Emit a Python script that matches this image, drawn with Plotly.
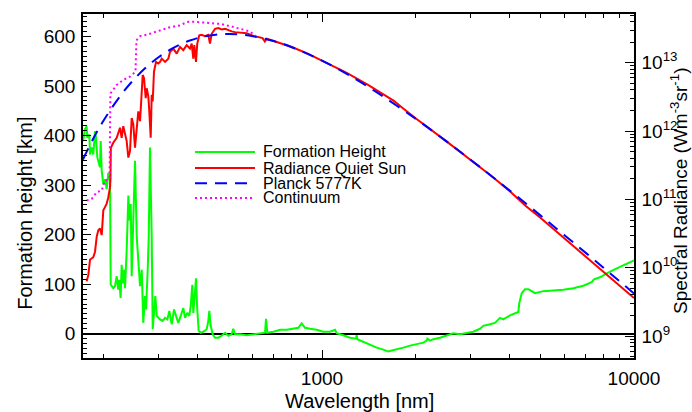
import plotly.graph_objects as go

# ---------------- data ----------------
wl_green = [171.5, 173.9, 176.1, 176.9, 179.6, 180.5, 182.8, 184.9, 187.3, 188.6, 190.5, 194.3, 195.3,
            196.8, 199.1, 201.6, 204.1, 206.6, 209.2, 210.3, 214.3, 217.0, 219.8, 222.4, 224.0, 226.3,
            228.0, 229.7, 232.0, 233.7, 236.6, 239.5, 241.3, 243.8, 245.5, 247.5, 249.8, 251.6, 254.8,
            257.8, 261.1, 264.4, 267.4, 270.8, 272.9, 276.3, 278.4, 281.0, 284.6, 286.7, 289.4, 292.3,
            295.3, 298.8, 302.6, 308.6, 314.0, 319.4, 324.1, 329.9, 335.5, 340.5, 346.3, 352.5, 359.3,
            363.9, 370.1, 375.6, 379.5, 384.0, 386.8, 391.6, 394.6, 398.3, 402.5, 408.5, 416.4, 427.0,
            432.1, 435.3, 439.9, 446.4, 454.1, 465.3, 477.1, 488.9, 501.0, 513.4, 519.6, 526.1, 546.0,
            573.7, 602.3, 632.9, 656.8, 661.6, 668.0, 698.3, 733.7, 770.9, 809.1, 839.5, 860.8, 882.1,
            915.2, 961.6, 1009.7, 1060.7, 1100.9, 1114.6, 1170.4, 1229.4, 1285.3, 1291.9, 1297.6, 1356.6,
            1425.1, 1497.4, 1572.3, 1631.4, 1672.9, 1735.6, 1822.4, 1914.9, 2011.8, 2112.4, 2166.1,
            2175.6, 2219.5, 2273.9, 2388.8, 2510.2, 2635.2, 2768.9, 2909.4, 3054.3, 3209.3, 3288.5,
            3455.4, 3585.1, 3720, 3812, 4006, 4156, 4259, 4290, 4367, 4474, 4584, 4700, 4817, 5121,
            5511, 5934, 6389, 6880, 7318, 7444, 7780, 8176, 8804, 9476, 10000]
h_green = [389, 413, 419, 396, 402, 362, 376, 362, 409, 396, 356, 336, 389,
           329, 302, 312, 292, 325, 309, 99, 92, 96, 116, 89, 109, 72,
           139, 102, 129, 92, 169, 279, 229, 262, 116, 196, 289, 349, 196,
           149, 96, 129, 22, 76, 49, 129, 196, 376, 196, 9, 49, 76,
           36, 32, 29, 26, 32, 29, 46, 19, 49, 36, 22, 36, 52,
           32, 42, 36, 56, 99, 42, 82, 112, 49, 6, 2, 4, 9,
           26, 46, 16, -1, -8, -8, -4, 2, -4, -1, 10, -1, -1,
           -3, -1, 1, 2, 30, 2, 4, 8, 8, 10, 12, 21, 12,
           10, 8, 4, 4, 8, 1, -3, -8, -10, -3, -11, -16,
           -23, -28, -32, -36, -34, -32, -28, -24, -21, -18, -14,
           -10, -14, -11, -8, -4, 1, -1, 1, 4, 10, 16,
           19, 22, 32, 29, 37, 41, 44, 62, 82, 90, 90, 86, 82, 86,
           87, 89, 92, 97, 104, 110, 114, 122, 132, 141, 148]

wl_red = [176.1, 178.3, 180.5, 184.9, 187.3, 189.6, 191.9, 194.3, 196.8, 199.1, 201.6, 204.1, 206.6,
          209.2, 209.9, 210.5, 214.3, 219.8, 225.2, 228.0, 230.7, 233.7, 236.6, 239.5, 242.5, 245.5,
          248.5, 251.6, 254.8, 257.8, 261.1, 264.4, 266.3, 268.9, 272.3, 274.3, 277.6, 279.6, 282.5,
          284.6, 286.7, 289.4, 293.8, 298.8, 302.6, 306.4, 314.0, 321.7, 325.7, 333.8, 342.3, 350.7,
          359.3, 368.4, 377.5, 382.3, 386.8, 389.7, 394.6, 398.3, 404.3, 411.5, 421.7, 432.1, 437.5,
          443.1, 454.1, 465.3, 477.1, 488.9, 501.0, 513.4, 526.1, 546.0, 573.7, 600, 645, 656, 665,
          700, 800, 900, 1000, 1200, 1400, 1600, 1700, 1800, 2000, 2500, 3000, 3500, 4000, 4300,
          4500, 5000, 6000, 8000, 10000]
rad_red = [6.33e9, 7.92e9, 1.31e10, 1.43e10, 1.72e10, 2.84e10, 3.55e10, 3.76e10, 3.01e10, 6.93e10,
           7.73e10, 8.66e10, 1.08e11, 1.51e11, 2.0e11, 5.7e11, 6.77e11, 8.0e11, 1.12e12, 8.0e11,
           1.18e12, 8.96e11, 7.16e11, 4.10e11, 5.13e11, 1.56e12, 1.25e12, 5.73e11, 1.0e12, 1.95e12,
           1.40e12, 4.24e12, 6.63e12, 5.92e12, 3.04e12, 4.24e12, 3.21e12, 1.95e12, 8.0e11, 3.40e12,
           2.72e12, 7.41e12, 1.03e13, 9.77e12, 1.03e13, 1.15e13, 1.03e13, 1.15e13, 1.44e13, 1.61e13,
           1.36e13, 1.71e13, 1.53e13, 1.81e13, 1.61e13, 1.91e13, 1.15e13, 1.81e13, 1.03e13, 1.91e13,
           2.52e13, 2.57e13, 2.46e13, 2.57e13, 1.91e13, 2.66e13, 3.14e13, 3.22e13, 3.08e13, 3.14e13,
           2.98e13, 2.88e13, 2.81e13, 2.75e13, 2.70e13, 2.50e13, 2.30e13, 2.05e13, 2.25e13,
           2.08e13, 1.70e13, 1.36e13, 1.08e13, 7.1e12, 4.8e12, 3.34e12, 2.77e12, 2.24e12, 1.53e12,
           7.14e11, 3.79e11, 2.19e11, 1.32e11, 9.7e10, 8.0e10, 5.43e10, 2.65e10, 8.66e9, 3.62e9]

wl_planck = [171.4, 185, 200, 225, 250, 275, 300, 325, 350, 375, 400, 450, 500, 550, 600, 700, 800,
             1000, 1200, 1500, 2000, 2500, 3000, 4000, 5000, 6000, 8000, 10000]
rad_planck = [3.85e11, 7.82e11, 1.454e12, 3.219e12, 5.752e12, 8.831e12, 1.216e13, 1.544e13, 1.843e13,
              2.099e13, 2.303e13, 2.558e13, 2.635e13, 2.583e13, 2.451e13, 2.079e13, 1.691e13,
              1.076e13, 6.869e12, 3.680e12, 1.505e12, 7.140e11, 3.789e11, 1.347e11, 5.903e10,
              2.977e10, 9.950e9, 4.211e9]

wl_cont = [176.1, 182.8, 189.6, 196.8, 201.6, 206.6, 208.5, 209.8, 219.8, 230.7, 242.5, 248.5, 252.5,
           254.3, 261.1, 274.3, 288.0, 302.6, 325.7, 350.7, 368.4, 377.5, 406.4, 437.5, 471.2, 507.3,
           546.0, 587.7, 610]
rad_cont = [9.68e10, 1.02e11, 1.28e11, 1.35e11, 1.89e11, 1.93e11, 2.0e11, 3.55e12, 4.75e12, 5.61e12,
            6.27e12, 7.0e12, 7.41e12, 2.13e13, 2.46e13, 2.57e13, 2.75e13, 2.98e13, 3.32e13, 3.52e13,
            3.93e13, 4.02e13, 3.93e13, 3.84e13, 3.71e13, 3.44e13, 3.14e13, 2.88e13, 2.5e13]

legend_names = ["Formation Height", "Radiance Quiet Sun", "Planck 5777K", "Continuum"]
legend_colors = ["#00ff00", "#ff0000", "#0000ff", "#ff00ff"]
legend_dash = ["solid", "solid", "12px,8px", "2px,3px"]

x_ticks = [1000, 10000]
x_minor = [200, 300, 400, 500, 600, 700, 800, 900, 2000, 3000, 4000, 5000, 6000, 7000, 8000, 9000]
h_ticks = [0, 100, 200, 300, 400, 500, 600]
r_ticks = [1e9, 1e10, 1e11, 1e12, 1e13]
r_ticktext = ["10<sup>9</sup>", "10<sup>10</sup>", "10<sup>11</sup>", "10<sup>12</sup>", "10<sup>13</sup>"]
r_minor = [m * 10 ** e for e in range(8, 14) for m in range(2, 10)]

# ---------------- figure ----------------
FONT = "Liberation Sans, Arial, Helvetica, sans-serif"
fig = go.Figure()

fig.add_trace(go.Scatter(x=wl_green, y=h_green, mode="lines", name=legend_names[0],
                         line=dict(color=legend_colors[0], width=2), yaxis="y"))
fig.add_trace(go.Scatter(x=wl_red, y=rad_red, mode="lines", name=legend_names[1],
                         line=dict(color=legend_colors[1], width=2), yaxis="y2"))
fig.add_trace(go.Scatter(x=wl_planck, y=rad_planck, mode="lines", name=legend_names[2],
                         line=dict(color=legend_colors[2], width=2, dash=legend_dash[2], shape="spline"),
                         yaxis="y2"))
fig.add_trace(go.Scatter(x=wl_cont, y=rad_cont, mode="lines", name=legend_names[3],
                         line=dict(color=legend_colors[3], width=2, dash=legend_dash[3]), yaxis="y2"))

W, H = 692, 412
L, R, T, B = 83, 58, 12, 54
pw, ph = W - L - R, H - T - B


def px(x):
    return (x - L) / pw


def py(y):
    return (H - B - y) / ph


# manual legend
rows = [150.7, 167.0, 182.3, 197.0]
for i, name in enumerate(legend_names):
    fig.add_shape(type="line", xref="paper", yref="paper", x0=px(195), x1=px(255),
                  y0=py(rows[i]), y1=py(rows[i]),
                  line=dict(color=legend_colors[i], width=2, dash=legend_dash[i]))
    fig.add_annotation(text=name, xref="paper", yref="paper", x=px(262), y=py(rows[i]),
                       xanchor="left", yanchor="middle", showarrow=False, borderpad=0,
                       font=dict(size=16, color="black", family=FONT))

# axis titles
fig.add_annotation(text="Wavelength [nm]", xref="paper", yref="paper", x=px(359), y=py(401),
                   xanchor="center", yanchor="middle", showarrow=False, borderpad=0,
                   font=dict(size=20, color="black", family=FONT))
fig.add_annotation(text="Formation height [km]", xref="paper", yref="paper", x=px(25), y=py(213),
                   xanchor="center", yanchor="middle", showarrow=False, textangle=-90, borderpad=0,
                   font=dict(size=20, color="black", family=FONT))
fig.add_annotation(text="Spectral Radiance (Wm<sup>-3</sup>sr<sup>-1</sup>)", xref="paper", yref="paper",
                   x=px(679), y=py(190), xanchor="center", yanchor="middle", showarrow=False,
                   textangle=-90, borderpad=0, font=dict(size=19, color="black", family=FONT))

axis_common = dict(showgrid=False, showline=True, linecolor="black", linewidth=1.5,
                   ticks="inside", tickcolor="black", tickwidth=1.2,
                   tickfont=dict(size=19, color="black", family=FONT))

fig.update_layout(
    width=W, height=H,
    margin=dict(l=L, r=R, t=T, b=B),
    paper_bgcolor="white", plot_bgcolor="white",
    showlegend=False,
    font=dict(family=FONT, color="black"),
    xaxis=dict(type="log", range=[2.234, 4.0], tickmode="array", tickvals=x_ticks,
               ticktext=[str(v) for v in x_ticks], ticklen=8, mirror="ticks",
               minor=dict(tickmode="array", tickvals=x_minor, ticks="inside", ticklen=4,
                          tickcolor="black", tickwidth=1.2),
               ticklabelstandoff=2, **axis_common),
    yaxis=dict(range=[-49, 645.6], tickmode="array", tickvals=h_ticks, ticklen=8,
               zeroline=True, zerolinecolor="black", zerolinewidth=1.5,
               minor=dict(dtick=10, ticks="inside", ticklen=4, tickcolor="black", tickwidth=1.2),
               ticklabelstandoff=2, **axis_common),
    yaxis2=dict(type="log", range=[8.68, 13.714], overlaying="y", side="right",
                tickmode="array", tickvals=r_ticks, ticktext=r_ticktext, ticklen=9,
                minor=dict(tickmode="array", tickvals=r_minor, ticks="inside", ticklen=4,
                           tickcolor="black", tickwidth=1.2),
                ticklabelstandoff=2, **axis_common),
)

fig.write_html("out.html")
